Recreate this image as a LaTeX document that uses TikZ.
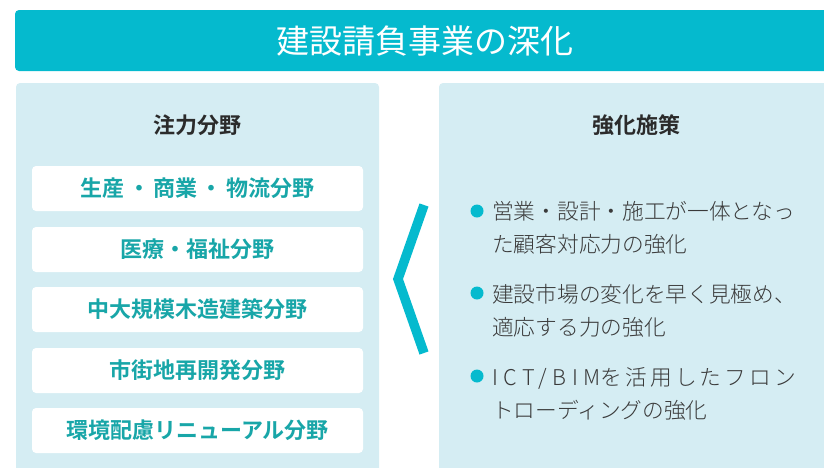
\documentclass[tikz,border=0pt]{standalone}
\usepackage{fontspec}
\newfontfamily\jp[BoldFont={Noto Sans CJK JP Bold}]{Noto Sans CJK JP}
\newfontfamily\jplight{Noto Sans CJK JP Light}
\definecolor{cyanmain}{HTML}{05BACE}
\definecolor{panelbg}{HTML}{D5EDF3}
\definecolor{tealtext}{HTML}{18A6A8}
\definecolor{darktext}{HTML}{2B2B2B}
\definecolor{bodytext}{HTML}{3A3A3A}
\tikzset{
  panel/.style={fill=panelbg, rounded corners=4pt, draw=none},
  fieldbox/.style={fill=white, rounded corners=4pt, draw=none, minimum width=331pt, minimum height=45pt, inner sep=0pt,
    text=tealtext, font=\jp\bfseries\fontsize{22pt}{24pt}\selectfont},
  header/.style={text=darktext, font=\jp\bfseries\fontsize{22pt}{24pt}\selectfont, inner sep=0pt},
  bulletdot/.style={circle, fill=cyanmain, minimum size=13pt, inner sep=0pt, draw=none},
  bullettext/.style={text=bodytext, align=left, inner sep=0pt, anchor=base west,
    font=\jplight\fontsize{21.7pt}{33pt}\selectfont},
}
\begin{document}
\begin{tikzpicture}[x=1pt,y=-1pt]
\useasboundingbox (0,0) rectangle (824,467);
% banner
\fill[cyanmain, rounded corners=4pt] (15,10) rectangle (840,71);
\node[text=white, font=\jp\fontsize{33pt}{36pt}\selectfont, inner sep=0pt] (title) at (425,41) {建設請負事業の深化};
% panels
\fill[panel] (16,83) rectangle (379,480);
\fill[panel] (439,83) rectangle (840,480);
\node[header] (lefthead) at (197,125) {注力分野};
\node[header] (righthead) at (636,125) {強化施策};
% field boxes
\node[fieldbox] (f1) at (197.5,188.5) {生産\hspace{0.15em}・\hspace{0.15em}商業\hspace{0.15em}・\hspace{0.15em}物流分野};
\node[fieldbox] (f2) at (197.5,249.5) {医療・福祉分野};
\node[fieldbox] (f3) at (197.5,309.5) {中大規模木造建築分野};
\node[fieldbox] (f4) at (197.5,370.5) {市街地再開発分野};
\node[fieldbox] (f5) at (197.5,430.5) {環境配慮リニューアル分野};
% chevron
\coordinate (ctop) at (424,205);
\coordinate (cmid) at (398,279);
\coordinate (cbot) at (424,353);
\draw[cyanmain, line width=9.5pt, miter limit=10] (ctop) -- (cmid) -- (cbot);
% bullets (anchor is the baseline of the second line)
\node[bulletdot] (b1) at (477,211) {};
\node[bullettext] (t1) at (492,252) {営業・設計・施工が一体となっ\\た顧客対応力の強化};
\node[bulletdot] (b2) at (477,293) {};
\node[bullettext] (t2) at (492,335) {建設市場の変化を早く見極め、\\適応する力の強化};
\node[bulletdot] (b3) at (477,376) {};
\node[bullettext] (t3) at (492,418) {{\addfontfeature{LetterSpace=26}ICT/BIM}{\addfontfeature{LetterSpace=14}を活用したフロン}\\トローディングの強化};
\end{tikzpicture}
\end{document}
